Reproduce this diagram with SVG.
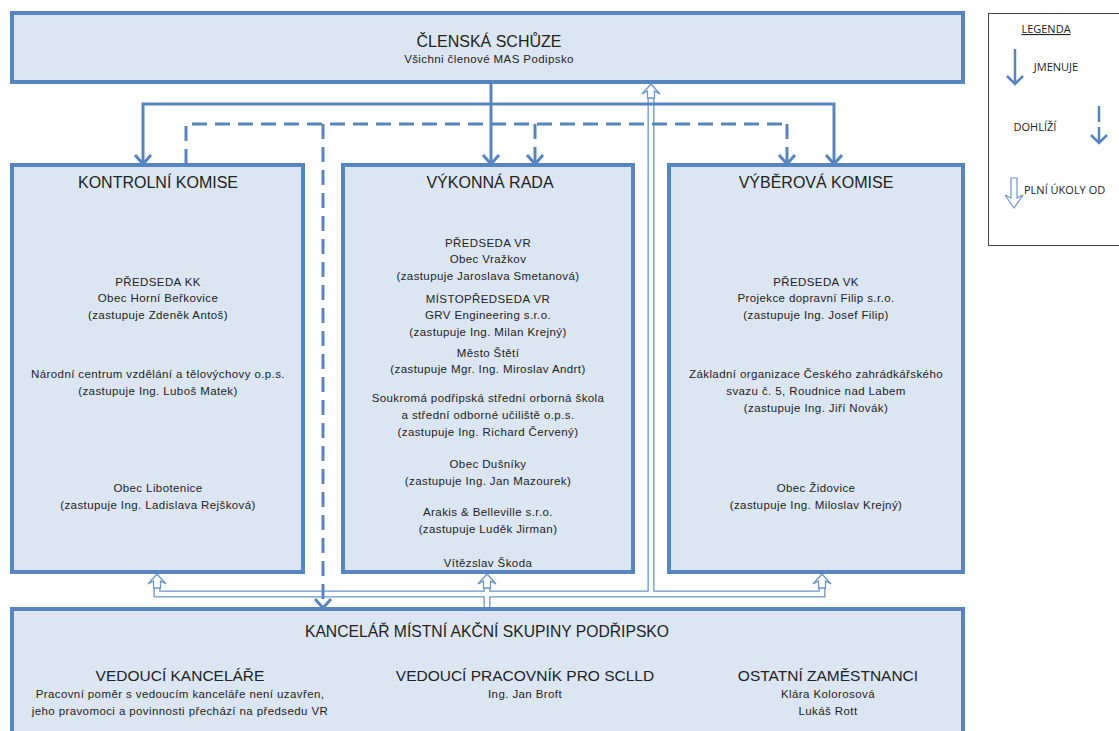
<svg xmlns="http://www.w3.org/2000/svg" width="1119" height="731" viewBox="0 0 1119 731">
<style>
.box{fill:#dce6f2;stroke:#5685c1;stroke-width:4}
.t{font-family:"Liberation Sans",Arial,sans-serif;fill:#222;text-anchor:middle}
.h{font-size:16px}
.h2{font-size:15.5px}
.s{font-size:11.5px;letter-spacing:0.4px}
.sol{fill:none;stroke:#5685c1;stroke-width:3}
.dash{fill:none;stroke:#5685c1;stroke-width:3;stroke-dasharray:15 8}
.head{fill:none;stroke:#5685c1;stroke-width:3;stroke-linejoin:miter}
.hol{fill:none;stroke:#6b95cb;stroke-width:7}
.holin{fill:none;stroke:#ffffff;stroke-width:4.4}
.hh{fill:#ffffff;stroke:#6b95cb;stroke-width:1.3;stroke-linejoin:miter}
.lg{font-family:"Open Sans","Liberation Sans",sans-serif;font-size:11px;fill:#222}
</style>
<rect width="1119" height="731" fill="#ffffff"/>

<g id="connectors">
  <path class="hol" d="M157,584 V594 H822 V584 M487,584 V608 M651,594 V92"/>
  <path class="holin" d="M157,584 V594 H822 V584 M487,584 V609 M651,594 V92"/>
  <path class="hh" d="M157,574 L166,584 L160.5,581 L160.5,588 L153.5,588 L153.5,581 L148,584 Z"/>
  <path class="hh" d="M487,574 L496,584 L490.5,581 L490.5,588 L483.5,588 L483.5,581 L478,584 Z"/>
  <path class="hh" d="M822,574 L831,584 L825.5,581 L825.5,588 L818.5,588 L818.5,581 L813,584 Z"/>
  <path class="hh" d="M651,84 L660,94 L654.5,91 L654.5,98 L647.5,98 L647.5,91 L642,94 Z"/>
  <path class="sol" d="M491,84 V164"/>
  <path class="sol" d="M143,164 V104 H834 V164"/>
  <path class="head" d="M135,155 L143,164 L151,155"/>
  <path class="head" d="M483,155 L491,164 L499,155"/>
  <path class="head" d="M826,155 L834,164 L842,155"/>
  <path class="dash" d="M186,164 V124 H787"/>
  <path class="dash" d="M323,124 V607"/>
  <path class="dash" d="M535,124 V163"/>
  <path class="dash" d="M787,124 V163"/>
  <path class="head" d="M315,599 L323,608 L331,599"/>
  <path class="head" d="M527,155 L535,164 L543,155"/>
  <path class="head" d="M779,155 L787,164 L795,155"/>
</g>

<g id="clenska-schuze">
  <rect class="box" x="12" y="13" width="951" height="69"/>
  <text class="t h" x="489" y="47">ČLENSKÁ SCHŮZE</text>
  <text class="t s" x="489" y="63">Všichni členové MAS Podipsko</text>
</g>

<g id="kontrolni-komise">
  <rect class="box" x="12" y="165" width="291" height="407"/>
  <text class="t h" x="158" y="188">KONTROLNÍ KOMISE</text>
  <text class="t s" x="158" y="286">PŘEDSEDA KK</text>
  <text class="t s" x="158" y="302">Obec Horní Beřkovice</text>
  <text class="t s" x="158" y="319">(zastupuje Zdeněk Antoš)</text>
  <text class="t s" x="158" y="378">Národní centrum vzdělání a tělovýchovy o.p.s.</text>
  <text class="t s" x="158" y="395">(zastupuje Ing. Luboš Matek)</text>
  <text class="t s" x="158" y="492">Obec Libotenice</text>
  <text class="t s" x="158" y="509">(zastupuje Ing. Ladislava Rejšková)</text>
</g>

<g id="vykonna-rada">
  <rect class="box" x="343" y="165" width="290" height="407"/>
  <text class="t h" x="490" y="188">VÝKONNÁ RADA</text>
  <text class="t s" x="488" y="247">PŘEDSEDA VR</text>
  <text class="t s" x="488" y="263">Obec Vražkov</text>
  <text class="t s" x="488" y="280">(zastupuje Jaroslava Smetanová)</text>
  <text class="t s" x="488" y="303">MÍSTOPŘEDSEDA VR</text>
  <text class="t s" x="488" y="319">GRV Engineering s.r.o.</text>
  <text class="t s" x="488" y="336">(zastupuje Ing. Milan Krejný)</text>
  <text class="t s" x="488" y="357">Město Štětí</text>
  <text class="t s" x="488" y="373">(zastupuje Mgr. Ing. Miroslav Andrt)</text>
  <text class="t s" x="488" y="402">Soukromá podřipská střední orborná škola</text>
  <text class="t s" x="488" y="419">a střední odborné učiliště o.p.s.</text>
  <text class="t s" x="488" y="436">(zastupuje Ing. Richard Červený)</text>
  <text class="t s" x="488" y="468">Obec Dušníky</text>
  <text class="t s" x="488" y="485">(zastupuje Ing. Jan Mazourek)</text>
  <text class="t s" x="488" y="516">Arakis &amp; Belleville s.r.o.</text>
  <text class="t s" x="488" y="533">(zastupuje Luděk Jirman)</text>
  <text class="t s" x="488" y="567">Vítězslav Škoda</text>
</g>

<g id="vyberova-komise">
  <rect class="box" x="669" y="165" width="294" height="407"/>
  <text class="t h" x="816" y="188">VÝBĚROVÁ KOMISE</text>
  <text class="t s" x="816" y="286">PŘEDSEDA VK</text>
  <text class="t s" x="816" y="302">Projekce dopravní Filip s.r.o.</text>
  <text class="t s" x="816" y="319">(zastupuje Ing. Josef Filip)</text>
  <text class="t s" x="816" y="378">Základní organizace Českého zahrádkářského</text>
  <text class="t s" x="816" y="395">svazu č. 5, Roudnice nad Labem</text>
  <text class="t s" x="816" y="412">(zastupuje Ing. Jiří Novák)</text>
  <text class="t s" x="816" y="492">Obec Židovice</text>
  <text class="t s" x="816" y="509">(zastupuje Ing. Miloslav Krejný)</text>
</g>

<g id="kancelar">
  <rect class="box" x="12" y="609" width="951" height="130"/>
  <text class="t" style="font-size:15.7px" x="487" y="637">KANCELÁŘ MÍSTNÍ AKČNÍ SKUPINY PODŘIPSKO</text>
  <text class="t h2" x="180" y="681">VEDOUCÍ KANCELÁŘE</text>
  <text class="t s" x="180" y="698">Pracovní poměr s vedoucím kanceláře není uzavřen,</text>
  <text class="t s" x="180" y="715">jeho pravomoci a povinnosti přechází na předsedu VR</text>
  <text class="t h2" x="525" y="681">VEDOUCÍ PRACOVNÍK PRO SCLLD</text>
  <text class="t s" x="525" y="698">Ing. Jan Broft</text>
  <text class="t h2" x="828" y="681">OSTATNÍ ZAMĚSTNANCI</text>
  <text class="t s" x="828" y="698">Klára Kolorosová</text>
  <text class="t s" x="828" y="715">Lukáš Rott</text>
</g>

<g id="legenda">
  <rect x="988.5" y="13.5" width="140" height="232" fill="#ffffff" stroke="#444" stroke-width="1"/>
  <text class="lg" x="1046" y="33" text-anchor="middle" text-decoration="underline">LEGENDA</text>
  <path d="M1015,49 V84 M1007,76 L1015,84 L1023,76" fill="none" stroke="#5685c1" stroke-width="2.5"/>
  <text class="lg" x="1056" y="71" text-anchor="middle">JMENUJE</text>
  <text class="lg" x="1035" y="131" text-anchor="middle">DOHLÍŽÍ</text>
  <path d="M1099,106 V122 M1099,127 V143 M1091,135 L1099,143 L1107,135" fill="none" stroke="#5685c1" stroke-width="2.5"/>
  <path d="M1011,178 V198 L1005,195 L1014,208 L1023,195 L1017,198 V178 Z" fill="#ffffff" stroke="#6b95cb" stroke-width="1.2"/>
  <text class="lg" x="1024" y="194">PLNÍ ÚKOLY OD</text>
</g>
</svg>
